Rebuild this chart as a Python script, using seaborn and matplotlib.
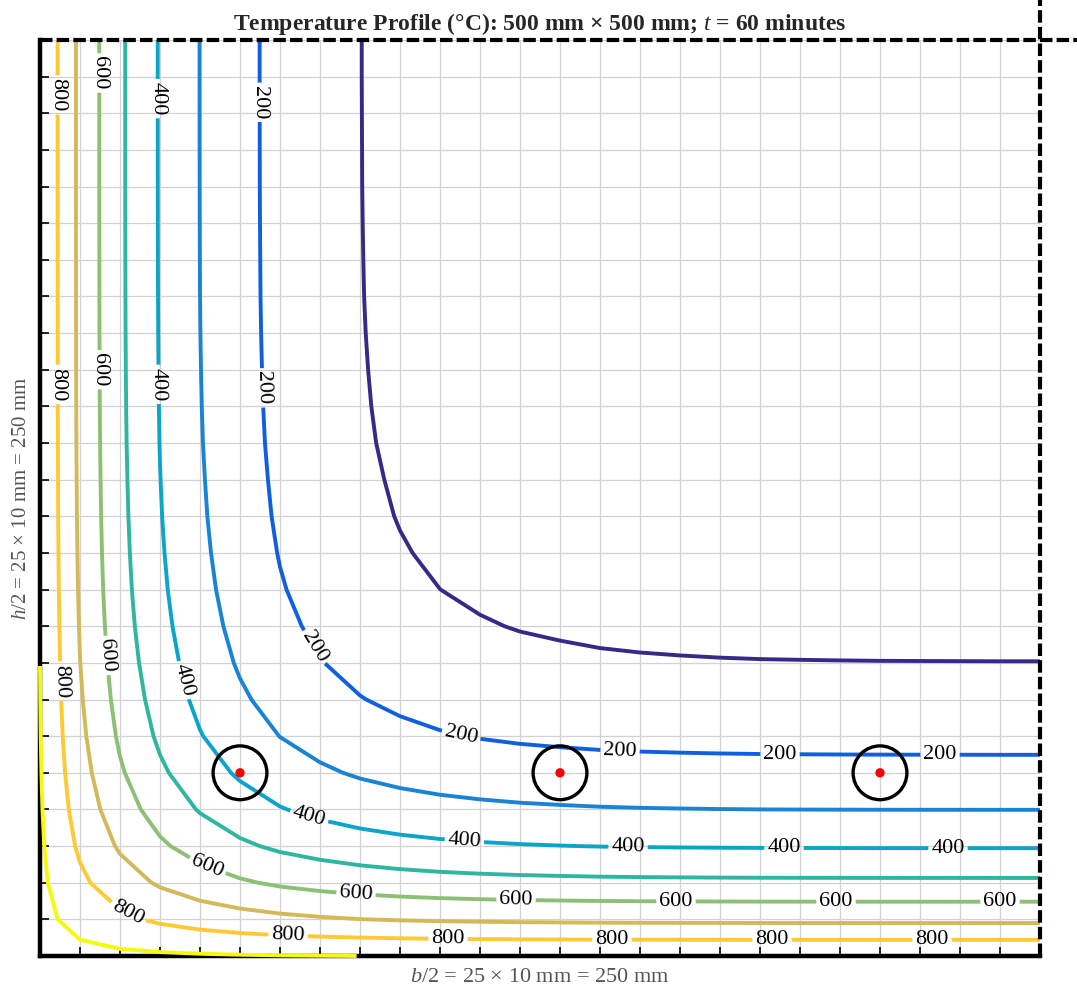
import matplotlib
matplotlib.use("Agg")
import matplotlib.pyplot as plt
import numpy as np
import seaborn as sns

# ---------------------------------------------------------------
# data (quarter section, 10 mm grid nodes)
# ---------------------------------------------------------------
depth_mm = [0, 10, 20, 30, 40, 50, 60, 70, 80, 90, 100, 110, 120,
            130, 140, 150, 160, 170, 180, 190, 200, 210, 220, 230, 240, 250]

# temperature far from the corner vs depth from the exposed face (°C)
profile_T = [896, 678, 516, 393, 299, 227, 172, 132, 101, 78, 61, 49, 40,
             34, 29, 26, 24, 22.5, 21.5, 21, 20.6, 20.3, 20.2, 20.1, 20, 20]

T_fire = 940      # reference (fire side) temperature
T_amb = 20        # ambient temperature

plain_levels = [100, 300, 500, 700, 900]
label_levels = [200, 400, 600, 800]

point_x = [50, 130, 210]
point_y = [50, 50, 50]

plain_colors = ["#352a87", "#1a83d4", "#2fb69e", "#d3b95a", "#f5f90e"]
label_colors = ["#0f5fe0", "#0aa5c8", "#8cc074", "#fdca35"]

# 2D field for the corner: product of the two 1D profiles
px = np.array(profile_T)
Tx, Ty = np.meshgrid(px, px)
T = T_fire - (T_fire - Tx) * (T_fire - Ty) / (T_fire - T_amb)
X, Y = np.meshgrid(depth_mm, depth_mm)

# where the inline labels sit (mm)
label_pos = [
    (54, 233), (54, 155), (65, 82), (105, 59), (145, 56), (185, 55), (225, 55),
    (29, 234), (29, 156), (35, 75), (67, 37), (106, 30), (147, 29.5), (186, 29.5), (227, 29.5),
    (15, 241), (15, 160), (16, 82), (42, 25), (79, 17), (119, 15), (159, 15), (199, 15), (240, 15),
    (4.5, 235), (4.5, 156), (4.5, 75), (22, 12), (62, 5), (102, 4.4), (143, 4.4), (183, 4.4), (223, 4.4),
]

# ---------------------------------------------------------------
# style
# ---------------------------------------------------------------
sns.set_style("whitegrid", {"grid.color": "#d4d4d4", "axes.edgecolor": "black"})
plt.rcParams["font.family"] = ["Liberation Serif", "DejaVu Serif"]
plt.rcParams["mathtext.fontset"] = "custom"
plt.rcParams["mathtext.rm"] = "Liberation Serif"
plt.rcParams["mathtext.it"] = "Liberation Serif:italic"

fig = plt.figure(figsize=(10.77, 9.9), dpi=100)
ax = fig.add_axes([40 / 1077, 34 / 990, 1000 / 1077, 916 / 990])

cs1 = ax.contour(X, Y, T, levels=plain_levels, colors=plain_colors,
                 linewidths=2.8, zorder=3)
cs1.set_clip_on(False)
cs2 = ax.contour(X, Y, T, levels=label_levels, colors=label_colors,
                 linewidths=2.8, zorder=3)
cs2.set_clip_on(False)

ax.clabel(cs2, manual=label_pos, inline=True, inline_spacing=3,
          fmt="%d", fontsize=16, colors="black")

# points with circles
sns.scatterplot(x=point_x, y=point_y, ax=ax, s=1500, marker="o",
                facecolor="none", edgecolor="black", linewidth=2.4, zorder=5)
sns.scatterplot(x=point_x, y=point_y, ax=ax, s=45, color="red",
                edgecolor="none", zorder=6)

ax.set_xlim(0, 250)
ax.set_ylim(0, 250)
ticks = np.arange(0, 251, 10)
ax.set_xticks(ticks)
ax.set_yticks(ticks)
ax.set_xticklabels([])
ax.set_yticklabels([])
ax.grid(True, color="#d2d2d2", linewidth=0.9, zorder=0)
ax.set_axisbelow(True)
ax.tick_params(axis="both", which="both", direction="in", length=6.5,
               width=1.2, color="black", bottom=True, left=True,
               top=False, right=False)

for side in ["left", "bottom"]:
    ax.spines[side].set_linewidth(3.2)
    ax.spines[side].set_color("black")
ax.spines["top"].set_visible(False)
ax.spines["right"].set_visible(False)

# symmetry lines (dashed), running past the plot area
ax.plot([0, 1.037], [1, 1], transform=ax.transAxes, color="black",
        linewidth=3, linestyle=(0, (3, 1)), clip_on=False, zorder=7)
ax.plot([1, 1], [0, 1.0437], transform=ax.transAxes, color="black",
        linewidth=3, linestyle=(0, (3, 1)), clip_on=False, zorder=7)

ax.set_title(r"Temperature Profile (°C): 500 mm × 500 mm; $t$ = 60 minutes",
             fontsize=17, fontweight="bold", pad=7)
ax.set_xlabel(r"$b$/2 = 25 × 10 mm = 250 mm", fontsize=16, color="#555555",
              labelpad=5)
ax.set_ylabel(r"$h$/2 = 25 × 10 mm = 250 mm", fontsize=15, color="#555555",
              labelpad=3)

fig.savefig("out.png", dpi=100)
plt.close(fig)
